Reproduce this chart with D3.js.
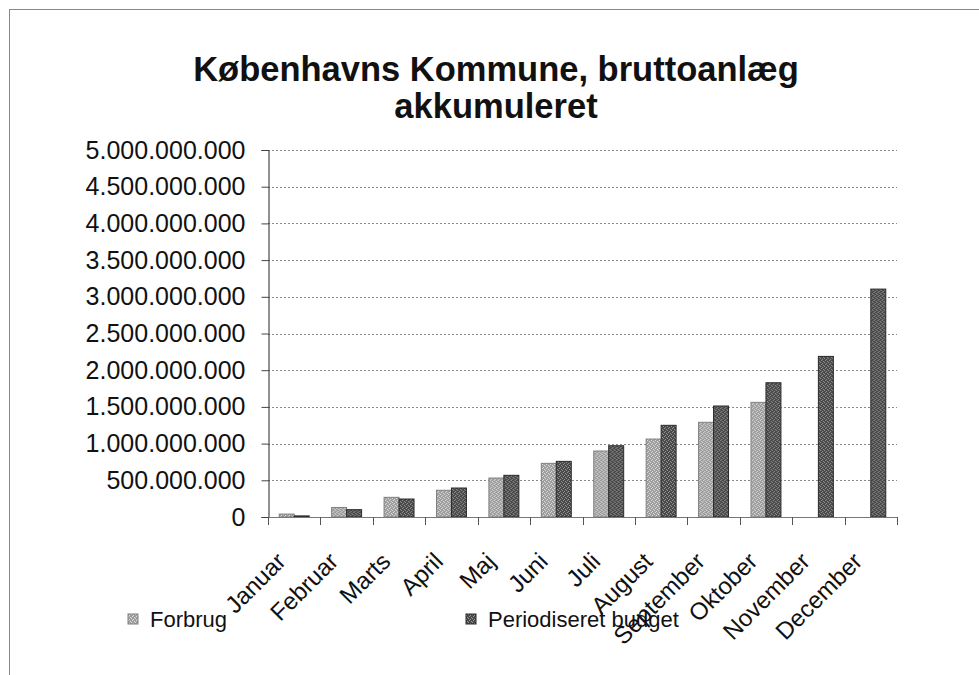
<!DOCTYPE html>
<html lang="da">
<head>
<meta charset="UTF-8">
<title>Københavns Kommune, bruttoanlæg akkumuleret</title>
<script src="https://d3js.org/d3.v7.min.js"></script>
<style>
    body {
        margin: 0;
        padding: 0;
        background: #fff;
        overflow: hidden;
    }
    svg {
        font-family: "Liberation Sans", Arial, sans-serif;
    }
    .title {
        font-size: 34.5px;
        font-weight: bold;
        text-anchor: middle;
        fill: #111;
    }
    .x-label {
        font-size: 24px;
        fill: #111;
    }
    .legend text {
        font-size: 22px;
        fill: #111;
    }
    .grid line {
        stroke: #8a8a8a;
        stroke-width: 1;
        stroke-dasharray: 2 2;
    }
</style>
</head>
<body>
<script>
    // data (kr.)
    const months = ["Januar", "Februar", "Marts", "April", "Maj", "Juni", "Juli",
        "August", "September", "Oktober", "November", "December"];
    const forbrug = [40e6, 130e6, 268e6, 364e6, 531e6, 731e6, 899e6, 1062e6,
        1290e6, 1562e6, null, null];
    const budget = [15e6, 100e6, 245e6, 395e6, 568e6, 758e6, 971e6, 1249e6,
        1512e6, 1829e6, 2188e6, 3105e6];
    const seriesNames = ["Forbrug", "Periodiseret budget"];
    const yTicks = d3.range(0, 5e9 + 1, 5e8);

    const width = 979, height = 675;
    const plot = { left: 268, right: 897, top: 150, bottom: 517 };

    const svg = d3.select("body").append("svg")
        .attr("width", width)
        .attr("height", height);

    // halftone-ish fills like the scanned print
    const defs = svg.append("defs");
    function makePattern(id, base, dots, dotColor) {
        const p = defs.append("pattern")
            .attr("id", id)
            .attr("width", 4).attr("height", 4)
            .attr("patternUnits", "userSpaceOnUse");
        p.append("rect").attr("width", 4).attr("height", 4).attr("fill", base);
        dots.forEach(([dx, dy]) => {
            p.append("rect").attr("x", dx).attr("y", dy)
                .attr("width", 1).attr("height", 1).attr("fill", dotColor);
        });
    }
    makePattern("pat-forbrug", "#9c9c9c", [[0, 0], [2, 1], [1, 3], [3, 2]], "#e2e2e2");
    makePattern("pat-budget", "#484848", [[1, 0], [3, 1], [0, 2], [2, 3]], "#9a9a9a");

    // chart frame (only top/left edges visible in the scan)
    svg.append("rect")
        .attr("x", 9.5).attr("y", 9.5)
        .attr("width", width + 20).attr("height", height + 20)
        .attr("fill", "none")
        .attr("stroke", "#888")
        .attr("stroke-width", 1);

    // title
    const title = svg.append("text").attr("class", "title");
    title.append("tspan").attr("x", 496).attr("y", 81).text("Københavns Kommune, bruttoanlæg");
    title.append("tspan").attr("x", 496).attr("y", 118).text("akkumuleret");

    const x = d3.scaleBand()
        .domain(months)
        .range([plot.left, plot.right])
        .padding(0);

    const xSeries = d3.scaleBand()
        .domain(seriesNames)
        .range([0, x.bandwidth()])
        .paddingInner(0)
        .paddingOuter(0.75);

    const y = d3.scaleLinear()
        .domain([0, 5e9])
        .range([plot.bottom, plot.top]);

    const locale = d3.formatLocale({ decimal: ",", thousands: ".", grouping: [3], currency: ["", " kr."] });
    const fmt = locale.format(",d");

    // gridlines
    svg.append("g")
        .attr("class", "grid")
        .selectAll("line")
        .data(yTicks.filter(d => d > 0))
        .enter().append("line")
        .attr("x1", plot.left).attr("x2", plot.right)
        .attr("y1", d => Math.round(y(d)) + 0.5)
        .attr("y2", d => Math.round(y(d)) + 0.5);

    // bars
    const rows = months.map((m, i) => ({ month: m, values: [forbrug[i], budget[i]] }));
    const fills = ["url(#pat-forbrug)", "url(#pat-budget)"];
    const strokes = ["#808080", "#2a2a2a"];

    const groups = svg.append("g")
        .selectAll("g")
        .data(rows)
        .enter().append("g")
        .attr("transform", d => `translate(${x(d.month)},0)`);

    groups.selectAll("rect")
        .data(d => d.values.map((v, k) => ({ name: seriesNames[k], k: k, v: v })).filter(d => d.v != null))
        .enter().append("rect")
        .attr("x", d => xSeries(d.name))
        .attr("width", xSeries.bandwidth())
        .attr("y", d => y(d.v))
        .attr("height", d => y(0) - y(d.v))
        .attr("fill", d => fills[d.k])
        .attr("stroke", d => strokes[d.k])
        .attr("stroke-width", 1);

    // y axis
    const yAxis = svg.append("g")
        .attr("class", "y-axis")
        .attr("transform", `translate(${plot.left + 0.5},0)`)
        .call(d3.axisLeft(y).tickValues(yTicks).tickFormat(fmt).tickSize(7).tickPadding(16));
    yAxis.select(".domain").attr("stroke", "#222");
    yAxis.selectAll(".tick line").attr("stroke", "#444");
    yAxis.selectAll("text")
        .attr("font-family", "Liberation Sans, Arial, sans-serif")
        .attr("font-size", 25)
        .attr("fill", "#111");

    // x axis: baseline + category boundary ticks
    const xAxis = svg.append("g").attr("class", "x-axis");
    xAxis.append("line")
        .attr("x1", plot.left).attr("x2", plot.right)
        .attr("y1", plot.bottom + 0.5).attr("y2", plot.bottom + 0.5)
        .attr("stroke", "#777");
    xAxis.selectAll(".xtick")
        .data(months.map(m => x(m)).concat([plot.right]))
        .enter().append("line")
        .attr("class", "xtick")
        .attr("x1", d => Math.round(d) + 0.5).attr("x2", d => Math.round(d) + 0.5)
        .attr("y1", plot.bottom).attr("y2", plot.bottom + 8)
        .attr("stroke", "#555");

    xAxis.selectAll(".x-label")
        .data(months)
        .enter().append("text")
        .attr("class", "x-label")
        .attr("text-anchor", "end")
        .attr("dy", "0.35em")
        .attr("transform", d => `translate(${x(d) + x.bandwidth() / 2 - 13},${plot.bottom + 40}) rotate(-45)`)
        .text(d => d);

    // legend
    const legend = svg.append("g").attr("class", "legend");
    const legendX = [128, 466];
    seriesNames.forEach((name, k) => {
        legend.append("rect")
            .attr("x", legendX[k]).attr("y", 614)
            .attr("width", 10).attr("height", 10)
            .attr("fill", fills[k])
            .attr("stroke", strokes[k]);
        legend.append("text")
            .attr("x", legendX[k] + 22).attr("y", 627)
            .text(name);
    });
</script>
</body>
</html>
